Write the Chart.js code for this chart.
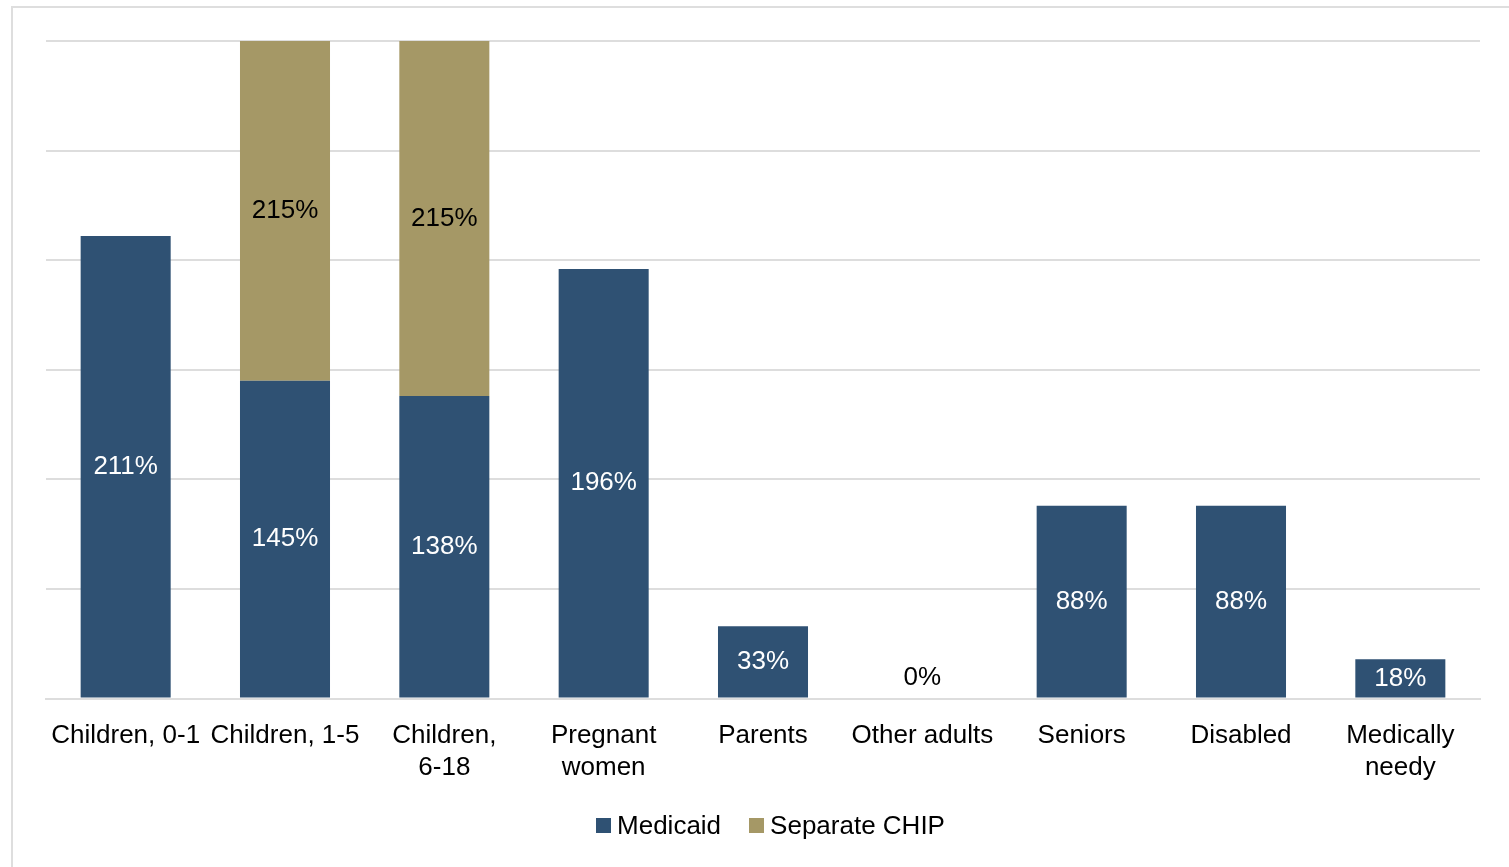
<!DOCTYPE html>
<html>
<head>
<meta charset="utf-8">
<script src="https://cdn.jsdelivr.net/npm/chart.js@4.4.1/dist/chart.umd.min.js"></script>
<style>
  html, body { margin: 0; padding: 0; background: #fff; overflow: hidden; }
  body { width: 1509px; height: 867px; position: relative; font-family: "Liberation Sans", Arial, Helvetica, sans-serif; }
  #frame { position: absolute; left: 11px; top: 6px; width: 1540px; height: 900px; border: 2px solid #dedede; box-sizing: border-box; }
  #wrap { position: absolute; left: 0; top: 0; width: 1509px; height: 867px; }
  #legend { position: absolute; left: 16px; top: 810px; width: 1509px; display: flex; justify-content: center; align-items: center; font-size: 26px; color: #000; }
  .item { display: flex; align-items: center; margin: 0 14px; }
  .sw { width: 15px; height: 15px; margin-right: 6px; }
</style>
</head>
<body>
<div id="frame"></div>
<div id="wrap"><canvas id="c" width="1509" height="867"></canvas></div>
<div id="legend"></div>
<script>
// Income eligibility limits (% of poverty level) by group
const categories = [
  "Children, 0-1", "Children, 1-5", ["Children,", "6-18"], ["Pregnant", "women"],
  "Parents", "Other adults", "Seniors", "Disabled", ["Medically", "needy"]
];
const medicaid = [211, 145, 138, 196, 33, 0, 88, 88, 18];
const separateChip = [null, 215, 215, null, null, null, null, null, null];
const yTicks = [0, 50, 100, 150, 200, 250, 300];

const seriesNames = ["Medicaid", "Separate CHIP"];
const seriesColors = ["#2f5173", "#a59866"];
const labelColors = ["#ffffff", "#000000"];

const FONT = '"Liberation Sans", Arial, Helvetica, sans-serif';

// Value labels drawn in the middle of the visible part of each bar segment
const valueLabels = {
  id: 'valueLabels',
  afterDatasetsDraw(chart) {
    const ctx = chart.ctx;
    const area = chart.chartArea;
    ctx.save();
    ctx.font = '26px ' + FONT;
    ctx.textAlign = 'center';
    ctx.textBaseline = 'middle';
    chart.data.datasets.forEach((ds, di) => {
      const meta = chart.getDatasetMeta(di);
      meta.data.forEach((bar, i) => {
        const v = ds.data[i];
        if (v === null || v === undefined) return;
        const top = Math.max(bar.y, area.top);
        const bottom = Math.min(bar.base, area.bottom);
        let y, color;
        if (v === 0) {
          y = bottom - 21;
          color = '#000000';
        } else {
          y = (top + bottom) / 2;
          color = labelColors[di];
        }
        ctx.fillStyle = color;
        ctx.fillText(v + '%', bar.x, y);
      });
    });
    ctx.restore();
  }
};

const chart = new Chart(document.getElementById('c'), {
  type: 'bar',
  data: {
    labels: categories,
    datasets: [
      { label: seriesNames[0], data: medicaid, backgroundColor: seriesColors[0], stack: 's' },
      { label: seriesNames[1], data: separateChip, backgroundColor: seriesColors[1], stack: 's' }
    ]
  },
  options: {
    responsive: false,
    animation: false,
    events: [],
    layout: { padding: { left: 46, right: 29, top: 41, bottom: 70 } },
    datasets: { bar: { categoryPercentage: 1, barPercentage: 0.565 } },
    plugins: { legend: { display: false }, tooltip: { enabled: false } },
    scales: {
      x: {
        stacked: true,
        grid: { display: false },
        border: { display: true, color: '#dddddd', width: 2 },
        ticks: { color: '#000', font: { family: FONT, size: 26, lineHeight: 1.2 }, padding: 14, autoSkip: false, maxRotation: 0 }
      },
      y: {
        stacked: true,
        min: yTicks[0],
        max: yTicks[yTicks.length - 1],
        afterBuildTicks(axis) { axis.ticks = yTicks.map(v => ({ value: v })); },
        grid: { color: '#dddddd', lineWidth: 2, drawTicks: false },
        border: { display: false },
        ticks: { display: false }
      }
    }
  },
  plugins: [valueLabels]
});

// Legend built from the dataset names and colours
const legend = document.getElementById('legend');
chart.data.datasets.forEach(ds => {
  const item = document.createElement('div');
  item.className = 'item';
  const sw = document.createElement('div');
  sw.className = 'sw';
  sw.style.background = ds.backgroundColor;
  const t = document.createElement('span');
  t.textContent = ds.label;
  item.appendChild(sw);
  item.appendChild(t);
  legend.appendChild(item);
});
</script>
</body>
</html>
